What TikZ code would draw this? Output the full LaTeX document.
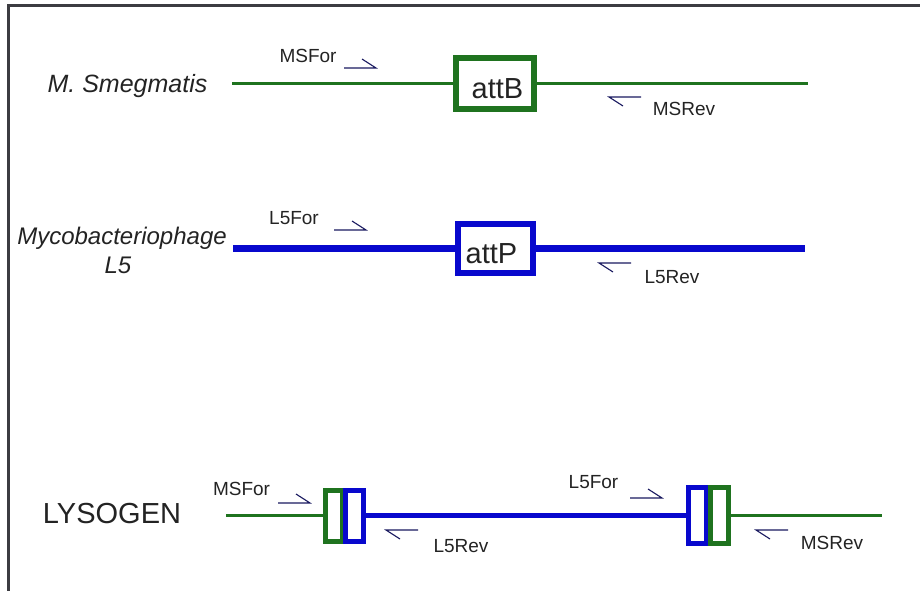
\documentclass[tikz,border=0pt]{standalone}
\usepackage{fontspec}
\setmainfont{Liberation Sans}
\definecolor{gr}{RGB}{31,115,31}
\definecolor{bl}{RGB}{8,8,205}
\definecolor{navy}{RGB}{25,25,95}
\definecolor{txt}{RGB}{35,35,35}
\definecolor{frame}{RGB}{60,60,65}
\tikzset{
  lbl/.style={font=\fontsize{19}{19}\selectfont, text=txt, anchor=base, inner sep=0pt},
  biglbl/.style={font=\fontsize{25}{25}\selectfont\itshape, text=txt, anchor=base, inner sep=0pt},
  boxtxt/.style={font=\fontsize{29}{29}\selectfont, text=txt, anchor=base, inner sep=0pt},
  primer/.style={draw=navy, line width=1.1pt},
  fwdprimer/.pic={\draw[primer] (-16,0) -- (16,0) -- (2,-9);},
  revprimer/.pic={\draw[primer] (16,0) -- (-16,0) -- (-2,9);},
  sitebox/.style={draw, fill=white, inner sep=0pt, rectangle},
}
\begin{document}
\begin{tikzpicture}[x=1pt,y=-1pt]
\useasboundingbox (0,0) rectangle (920,590);
% frame
\draw[frame, line width=2.5pt] (8.7,592) -- (8.7,5.7) -- (922,5.7);

% ---------- Row 1: M. Smegmatis ----------
\node[biglbl] (ms) at (127.5,92) {M. Smegmatis};
\node[sitebox, draw=gr, line width=6pt, minimum width=78pt, minimum height=51pt] (attB) at (495,83.5) {};
\node[boxtxt] (attBt) at (497.5,98) {attB};
\coordinate (r1l) at (232,83.5);
\coordinate (r1r) at (808,83.5);
\draw[gr, line width=3.5pt] (r1l) -- (attB.west);
\draw[gr, line width=3.5pt] (attB.east) -- (r1r);
\node[lbl] (msfor1) at (308,62) {MSFor};
\pic at (360,68) {fwdprimer};
\node[lbl] (msrev1) at (684,115) {MSRev};
\pic at (625,97) {revprimer};

% ---------- Row 2: Mycobacteriophage L5 ----------
\node[biglbl, font=\fontsize{24}{24}\selectfont\itshape] (myco) at (122,244) {Mycobacteriophage};
\node[biglbl, font=\fontsize{24}{24}\selectfont\itshape] (l5) at (118,273) {L5};
\node[sitebox, draw=bl, line width=6pt, minimum width=75pt, minimum height=49pt] (attP) at (495.5,248.5) {};
\node[boxtxt] (attPt) at (491.5,263) {attP};
\coordinate (r2l) at (233,248.5);
\coordinate (r2r) at (805,248.5);
\draw[bl, line width=6.5pt] (r2l) -- (attP.west);
\draw[bl, line width=6.5pt] (attP.east) -- (r2r);
\node[lbl] (l5for2) at (294,224) {L5For};
\pic at (350,230) {fwdprimer};
\node[lbl] (l5rev2) at (672,283) {L5Rev};
\pic at (615,263) {revprimer};

% ---------- Row 3: LYSOGEN ----------
\node[boxtxt] (lys) at (112,523) {LYSOGEN};
\node[sitebox, draw=gr, line width=5pt, minimum width=17pt, minimum height=51pt] (gL) at (334,515.5) {};
\node[sitebox, draw=bl, line width=5pt, minimum width=18pt, minimum height=51pt] (bL) at (354.5,515.5) {};
\node[sitebox, draw=bl, line width=5pt, minimum width=18pt, minimum height=56pt] (bR) at (697.5,515.5) {};
\node[sitebox, draw=gr, line width=5pt, minimum width=18pt, minimum height=56pt] (gR) at (719.5,515.5) {};
\coordinate (r3l) at (226,515.5);
\coordinate (r3r) at (882,515.5);
\draw[gr, line width=3.3pt] (r3l) -- (gL.west);
\draw[bl, line width=4.5pt] (bL.east) -- (bR.west);
\draw[gr, line width=3.3pt] (gR.east) -- (r3r);
\node[lbl] (msfor3) at (241.5,495) {MSFor};
\pic at (294,503) {fwdprimer};
\node[lbl] (l5rev3) at (461,552) {L5Rev};
\pic at (402,530) {revprimer};
\node[lbl] (l5for3) at (593.5,488) {L5For};
\pic at (646,498) {fwdprimer};
\node[lbl] (msrev3) at (832,549) {MSRev};
\pic at (772,530) {revprimer};
\end{tikzpicture}
\end{document}
